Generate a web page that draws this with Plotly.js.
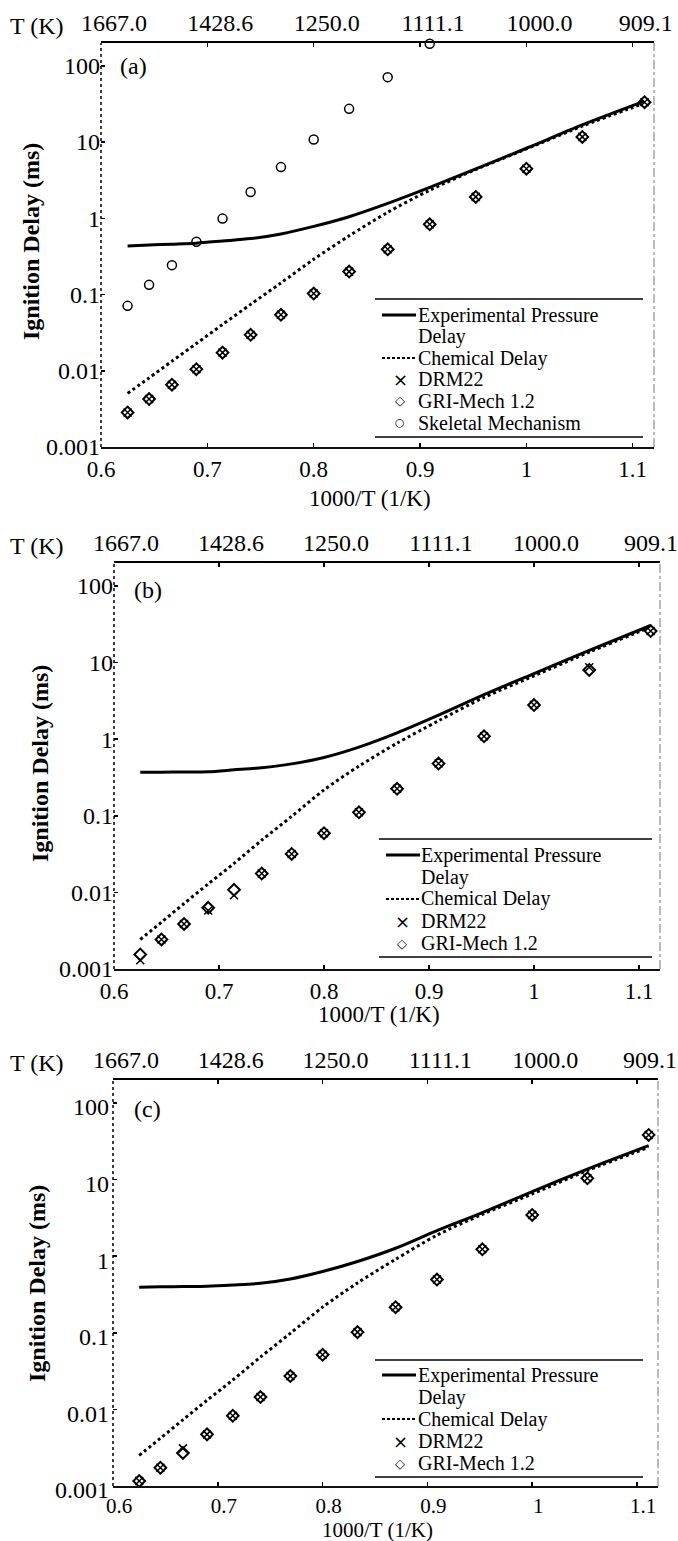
<!DOCTYPE html>
<html><head><meta charset="utf-8">
<script src="https://cdn.plot.ly/plotly-3.0.1.min.js"></script>
<style>html,body{margin:0;padding:0;background:#fff;} #chart{width:678px;height:1541px;}</style>
</head><body><div id="chart"></div>
<script>
// inverse temperature 1000/T (1/K) for T = 1600 ... 900 K
const invT = [0.6250, 0.6452, 0.6667, 0.6897, 0.7143, 0.7407, 0.7692, 0.8000, 0.8333, 0.8696, 0.9091, 0.9524, 1.0000, 1.0526, 1.1111];

const xTickVals = [0.6, 0.7, 0.8, 0.9, 1.0, 1.1];
const xTickText = ["0.6", "0.7", "0.8", "0.9", "1", "1.1"];
const tempTickText = ["1667.0", "1428.6", "1250.0", "1111.1", "1000.0", "909.1"];
const yTickVals = [0.001, 0.01, 0.1, 1, 10, 100];
const yTickText = ["0.001", "0.01", "0.1", "1", "10", "100"];

// panel (a)
const aExpPressure = [0.435, 0.446, 0.458, 0.472, 0.504, 0.542, 0.624, 0.783, 1.05, 1.57, 2.55, 4.44, 8.3, 16.8, 34.4];
const aChemical    = [0.00505, 0.00805, 0.01337, 0.02275, 0.0405, 0.0743, 0.142, 0.290, 0.589, 1.20, 2.34, 4.37, 8.13, 16.2, 32.4];
const aDRM22       = [0.00284, 0.00426, 0.00656, 0.0105, 0.0173, 0.0296, 0.0542, 0.103, 0.200, 0.392, 0.835, 1.91, 4.48, 11.7, 33.4];
const aGRI         = [0.00284, 0.00426, 0.00656, 0.0105, 0.0173, 0.0296, 0.0542, 0.103, 0.200, 0.392, 0.835, 1.91, 4.48, 11.7, 33.4];
const aSkeletal    = [0.0711, 0.134, 0.243, 0.494, 0.991, 2.21, 4.70, 10.8, 27.3, 71.1, 195, null, null, null, null];

// panel (b)
const bExpPressure = [0.369, 0.371, 0.373, 0.376, 0.398, 0.424, 0.476, 0.578, 0.789, 1.21, 2.06, 3.81, 7.19, 14.4, 30.5];
const bChemical    = [0.00243, 0.00408, 0.00716, 0.0129, 0.0239, 0.048, 0.0982, 0.218, 0.445, 0.887, 1.74, 3.51, 6.71, 13.7, 29.1];
const bDRM22       = [0.0013, 0.00243, 0.00387, 0.0058, 0.0092, 0.0176, 0.0318, 0.0593, 0.111, 0.225, 0.481, 1.09, 2.79, 8.7, 25.8];
const bGRI         = [0.00155, 0.00243, 0.00387, 0.0063, 0.0108, 0.0176, 0.0318, 0.0593, 0.111, 0.225, 0.481, 1.09, 2.79, 8.0, 25.8];

// panel (c)
const cExpPressure = [0.394, 0.398, 0.402, 0.406, 0.421, 0.443, 0.504, 0.631, 0.853, 1.27, 2.16, 3.71, 6.98, 13.7, 27.7];
const cChemical    = [0.00251, 0.0042, 0.00731, 0.01315, 0.0242, 0.0482, 0.0984, 0.216, 0.448, 0.91, 1.88, 3.52, 6.5, 13.1, 26.4];
const cDRM22       = [0.00116, 0.00173, 0.0031, 0.00472, 0.00826, 0.0145, 0.0272, 0.0516, 0.102, 0.216, 0.496, 1.23, 3.46, 10.4, 38.3];
const cGRI         = [0.00116, 0.00173, 0.0027, 0.00472, 0.00826, 0.0145, 0.0272, 0.0516, 0.102, 0.216, 0.496, 1.23, 3.46, 10.4, 38.3];

const legendNames = ["Experimental Pressure", "Delay", "Chemical Delay", "DRM22", "GRI-Mech 1.2", "Skeletal Mechanism"];

const W = 678, H = 1541;
const FONT = "Liberation Serif";
const pxX = v => v / W;
const pxY = v => 1 - v / H;

const panels = [
  {label: "(a)", box: {l: 101, r: 654, t: 43, b: 447}, labelPos: [118, 66], ytitle: [31, 242],
   xtitleY: 498, xtitleSize: 23, xtickSize: 23, topShift: 13, yShift: 0, yStand: 0, xShift: 0,
   leg: {l: 375, r: 643, t: 299, b: 437, textX: 417, sl: 382, sr: 416, symX: 400, rows: [315, 336.5, 358, 379.5, 401, 422.5]},
   exp: aExpPressure, chem: aChemical, drm: aDRM22, gri: aGRI, skel: aSkeletal},
  {label: "(b)", box: {l: 114, r: 660, t: 563, b: 969}, labelPos: [132, 590], ytitle: [40, 764],
   xtitleY: 1014, xtitleSize: 23, xtickSize: 23, topShift: 12, yShift: 0, yStand: 0, xShift: 0,
   leg: {l: 379, r: 652, t: 839, b: 957, textX: 420, sl: 386, sr: 420, symX: 402, rows: [855, 877, 899, 921, 943]},
   exp: bExpPressure, chem: bChemical, drm: bDRM22, gri: bGRI, skel: null},
  {label: "(c)", box: {l: 113, r: 658, t: 1080, b: 1486}, labelPos: [132, 1109], ytitle: [37, 1284],
   xtitleY: 1530, xtitleSize: 21, xtickSize: 21, topShift: 13, yShift: 4, yStand: 3, xShift: 6,
   leg: {l: 375, r: 643, t: 1360, b: 1477, textX: 417, sl: 382, sr: 416, symX: 400, rows: [1375, 1397, 1419, 1441, 1463]},
   exp: cExpPressure, chem: cChemical, drm: cDRM22, gri: cGRI, skel: null}
];

const traces = [];
const layout = {
  width: W, height: H, margin: {l: 0, r: 0, t: 0, b: 0},
  paper_bgcolor: "#fff", plot_bgcolor: "#fff", showlegend: false,
  font: {family: FONT, color: "#000", size: 22},
  shapes: [], annotations: []
};

panels.forEach((p, i) => {
  const n = i + 1;
  const xa = n === 1 ? "x" : "x" + n;
  const ya = n === 1 ? "y" : "y" + n;
  const topN = n + 3;
  const xTop = "x" + topN;
  const xDom = [pxX(p.box.l), pxX(p.box.r)];
  const yDom = [pxY(p.box.b), pxY(p.box.t)];

  layout["xaxis" + (n === 1 ? "" : n)] = {
    domain: xDom, range: [0.6, 1.12], anchor: ya,
    tickmode: "array", tickvals: xTickVals, ticktext: xTickText,
    ticks: "inside", ticklen: 4, tickwidth: 1.5, tickcolor: "#000",
    showline: true, linewidth: 2, linecolor: "#111", mirror: false,
    showgrid: false, zeroline: false, ticklabelshift: p.xShift,
    tickfont: {family: FONT, size: p.xtickSize, color: "#000"}
  };
  layout["xaxis" + topN] = {
    overlaying: xa, side: "top", anchor: ya, range: [0.6, 1.12],
    tickmode: "array", tickvals: xTickVals, ticktext: tempTickText,
    ticks: "inside", ticklen: 4, tickwidth: 1.5, tickcolor: "#000",
    showline: true, linewidth: 2, linecolor: "#000",
    showgrid: false, zeroline: false, ticklabelshift: p.topShift, ticklabeloverflow: "allow",
    tickfont: {family: FONT, size: 24, color: "#000"}
  };
  layout["yaxis" + (n === 1 ? "" : n)] = {
    domain: yDom, type: "log", range: [-3, 2.3], anchor: xa,
    tickmode: "array", tickvals: yTickVals, ticktext: yTickText,
    ticks: "inside", ticklen: 4, tickwidth: 1.5, tickcolor: "#000",
    showline: false, showgrid: false, zeroline: false,
    ticklabelshift: p.yShift, ticklabelstandoff: p.yStand,
    tickfont: {family: FONT, size: 24, color: "#000"}
  };

  // frame: dotted left edge, faint dash-dot right edge
  layout.shapes.push({type: "line", xref: xa + " domain", yref: ya + " domain", x0: 0, x1: 0, y0: 0, y1: 1,
    line: {color: "#000", width: 1.5, dash: "dot"}});
  layout.shapes.push({type: "line", xref: xa + " domain", yref: ya + " domain", x0: 1, x1: 1, y0: 0, y1: 1,
    line: {color: "#777", width: 1, dash: "dashdot"}});

  // titles / labels
  layout.annotations.push({xref: "paper", yref: "paper", x: pxX(p.ytitle[0]), y: pxY(p.ytitle[1]),
    xanchor: "center", yanchor: "middle", textangle: -90, showarrow: false,
    text: "Ignition Delay (ms)", font: {family: FONT, size: 24, weight: "bold", color: "#000"}});
  layout.annotations.push({xref: "paper", yref: "paper", x: pxX((p.box.l + p.box.r) / 2 - 8), y: pxY(p.xtitleY),
    xanchor: "center", yanchor: "middle", showarrow: false, borderpad: 0,
    text: "1000/T (1/K)", font: {family: FONT, size: p.xtitleSize, color: "#000"}});
  layout.annotations.push({xref: "paper", yref: "paper", x: pxX(p.labelPos[0]), y: pxY(p.labelPos[1]),
    xanchor: "left", yanchor: "middle", showarrow: false, text: p.label,
    font: {family: FONT, size: 24, color: "#000"}});
  layout.annotations.push({xref: "paper", yref: "paper", x: pxX(8), y: pxY(p.box.t - 17),
    xanchor: "left", yanchor: "middle", showarrow: false, text: "T (K)",
    font: {family: FONT, size: 24, color: "#000"}});

  // legend block
  const L = p.leg;
  [L.t, L.b].forEach(yy => layout.shapes.push({type: "line", xref: "paper", yref: "paper",
    x0: pxX(L.l), x1: pxX(L.r), y0: pxY(yy), y1: pxY(yy), line: {color: "#000", width: 1.5}}));
  const nRows = L.rows.length;
  for (let k = 0; k < nRows; k++) {
    layout.annotations.push({xref: "paper", yref: "paper", x: pxX(L.textX), y: pxY(L.rows[k]),
      xanchor: "left", yanchor: "middle", showarrow: false, text: legendNames[k], borderpad: 0,
      font: {family: FONT, size: 20, color: "#000"}});
  }
  layout.shapes.push({type: "line", xref: "paper", yref: "paper", x0: pxX(L.sl), x1: pxX(L.sr),
    y0: pxY(L.rows[0]), y1: pxY(L.rows[0]), line: {color: "#000", width: 3}});
  layout.shapes.push({type: "line", xref: "paper", yref: "paper", x0: pxX(L.sl), x1: pxX(L.sr),
    y0: pxY(L.rows[2]), y1: pxY(L.rows[2]), line: {color: "#000", width: 2, dash: "3px,2px"}});
  const glyphs = [["\u00d7", 18], ["\u25c7", 13], ["\u25cb", 11]];
  for (let k = 3; k < nRows; k++) {
    layout.annotations.push({xref: "paper", yref: "paper", x: pxX(L.symX), y: pxY(L.rows[k]),
      xanchor: "center", yanchor: "middle", showarrow: false, text: glyphs[k - 3][0], borderpad: 0,
      font: {family: "DejaVu Sans", size: glyphs[k - 3][1], color: "#000"}});
  }

  // data traces (the experimental curve is tied to the top temperature axis so that axis is drawn)
  traces.push({x: invT, y: p.exp, xaxis: xTop, yaxis: ya, mode: "lines", name: "Experimental Pressure Delay",
    line: {color: "#000", width: 3, shape: "spline", smoothing: 0.8}});
  traces.push({x: invT, y: p.chem, xaxis: xa, yaxis: ya, mode: "lines", name: "Chemical Delay",
    line: {color: "#000", width: 3, dash: "3px,3px", shape: "spline", smoothing: 0.8}});
  traces.push({x: invT, y: p.gri, xaxis: xa, yaxis: ya, mode: "markers", name: "GRI-Mech 1.2", cliponaxis: false,
    marker: {symbol: "diamond", size: 9, color: "#fff", line: {color: "#000", width: 2}}});
  traces.push({x: invT, y: p.drm, xaxis: xa, yaxis: ya, mode: "markers", name: "DRM22", cliponaxis: false,
    marker: {symbol: "x-thin", size: 8, color: "#000", line: {color: "#000", width: 1.5}}});
  if (p.skel) {
    traces.push({x: invT, y: p.skel, xaxis: xa, yaxis: ya, mode: "markers", name: "Skeletal Mechanism", cliponaxis: false,
      marker: {symbol: "circle", size: 9, color: "#fff", line: {color: "#000", width: 1.5}}});
  }
});

Plotly.newPlot("chart", traces, layout, {staticPlot: true});
</script>
</body></html>
